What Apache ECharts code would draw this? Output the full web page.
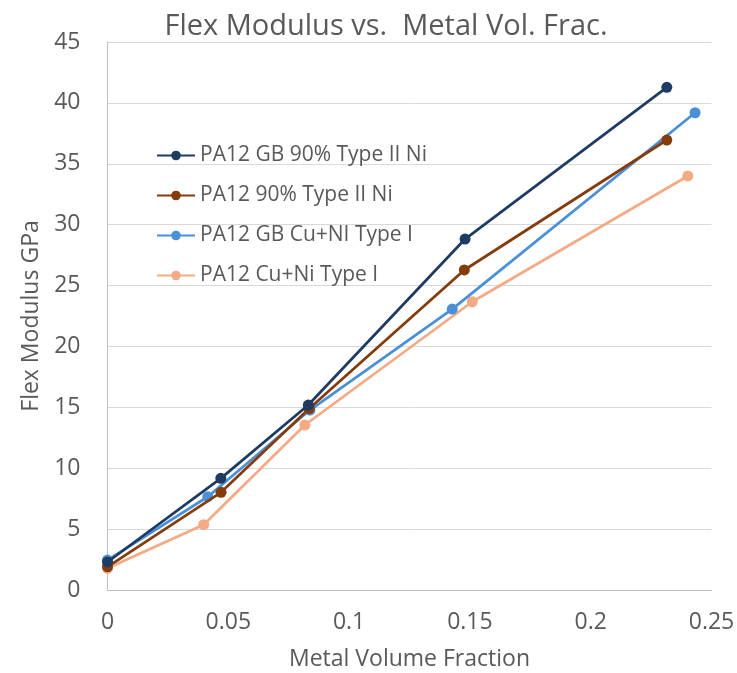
<!DOCTYPE html>
<html>
<head>
<meta charset="utf-8">
<title>Flex Modulus vs. Metal Vol. Frac.</title>
<script src="https://cdn.jsdelivr.net/npm/echarts@6/dist/echarts.min.js"></script>
<style>
  html, body { margin: 0; padding: 0; background: #ffffff; }
  #chart { width: 737px; height: 673px; }
</style>
</head>
<body>
<div id="chart"></div>
<script>
// Series names
var seriesNames = [
  'PA12 GB 90% Type II Ni',
  'PA12 90% Type II Ni',
  'PA12 GB Cu+NI Type I',
  'PA12 Cu+Ni Type I'
];

// Metal volume fraction (x) and flex modulus in GPa (y) for each series
var gbTypeIINiX = [0, 0.0469, 0.0831, 0.1480, 0.2315];
var gbTypeIINiY = [2.3, 9.17, 15.19, 28.82, 41.28];

var typeIINiX = [0, 0.0470, 0.0835, 0.1477, 0.2315];
var typeIINiY = [1.9, 8.02, 14.9, 26.28, 36.95];

var gbCuNiX = [0, 0.0415, 0.0838, 0.1427, 0.2432];
var gbCuNiY = [2.46, 7.66, 14.78, 23.07, 39.19];

var cuNiX = [0, 0.0398, 0.0817, 0.1510, 0.2402];
var cuNiY = [1.78, 5.36, 13.55, 23.67, 34.0];

var seriesColors = ['#1F3B61', '#843C0C', '#4A90D9', '#F4AA84'];

function pairs(xs, ys) {
  return xs.map(function (x, i) { return [x, ys[i]]; });
}

var seriesData = [
  pairs(gbTypeIINiX, gbTypeIINiY),
  pairs(typeIINiX, typeIINiY),
  pairs(gbCuNiX, gbCuNiY),
  pairs(cuNiX, cuNiY)
];

var textColor = '#595959';
var font = "'Open Sans', 'Liberation Sans', Arial, sans-serif";

var chart = echarts.init(document.getElementById('chart'), null, { renderer: 'canvas' });

chart.setOption({
  animation: false,
  backgroundColor: '#ffffff',
  title: {
    text: 'Flex Modulus vs.  Metal Vol. Frac.',
    left: 381,
    textAlign: 'center',
    top: 7,
    textStyle: { color: textColor, fontSize: 29, fontWeight: 'normal', fontFamily: font }
  },
  legend: {
    orient: 'vertical',
    left: 151,
    top: 140,
    itemWidth: 38,
    itemHeight: 12,
    itemGap: 19,
    textStyle: { color: textColor, fontSize: 21, fontFamily: font },
    data: seriesNames
  },
  grid: {
    left: 107.5, right: 25.5, top: 42, bottom: 83,
    containLabel: false,
    outerBoundsMode: 'none'
  },
  xAxis: {
    type: 'value',
    min: 0,
    max: 0.25,
    interval: 0.05,
    name: 'Metal Volume Fraction',
    nameLocation: 'middle',
    nameGap: 58,
    nameTextStyle: { color: textColor, fontSize: 23, fontFamily: font },
    axisLine: { show: true, lineStyle: { color: '#BFBFBF', width: 1 } },
    axisTick: { show: false },
    splitLine: { show: false },
    axisLabel: { color: textColor, fontSize: 23, fontFamily: font, margin: 21 }
  },
  yAxis: {
    type: 'value',
    min: 0,
    max: 45,
    interval: 5,
    name: 'Flex Modulus GPa',
    nameLocation: 'middle',
    nameGap: 61,
    nameTextStyle: { color: textColor, fontSize: 23, fontFamily: font },
    axisLine: { show: true, lineStyle: { color: '#BFBFBF', width: 1 } },
    axisTick: { show: false },
    splitLine: { show: true, lineStyle: { color: '#D9D9D9', width: 1 } },
    axisLabel: { color: textColor, fontSize: 23, fontFamily: font, margin: 27 }
  },
  series: seriesNames.map(function (name, i) {
    return {
      name: name,
      type: 'line',
      data: seriesData[i],
      symbol: 'circle',
      symbolSize: 11,
      showSymbol: true,
      lineStyle: { color: seriesColors[i], width: 2.75 },
      itemStyle: { color: seriesColors[i] },
      z: 10 - i
    };
  })
});
</script>
</body>
</html>
